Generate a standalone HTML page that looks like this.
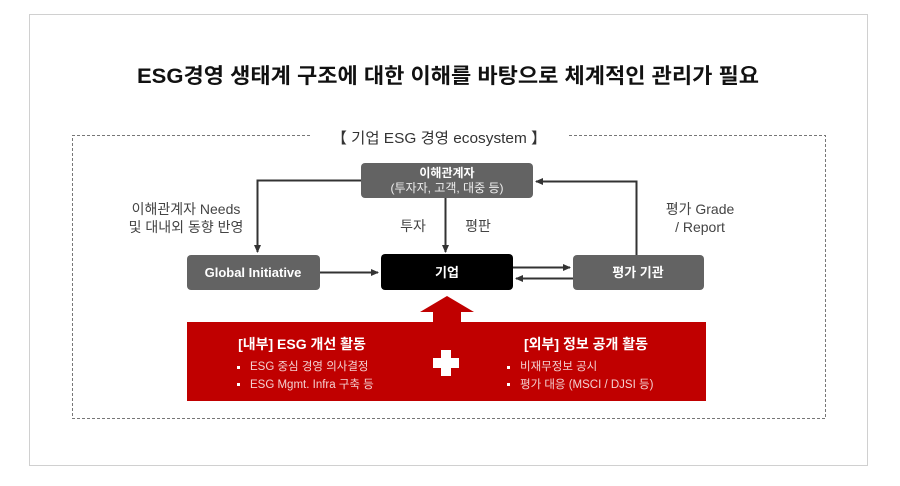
<!DOCTYPE html>
<html><head><meta charset="utf-8"><style>
html,body{margin:0;padding:0;background:#fff;}
svg{display:block;font-family:"Liberation Sans","Noto Sans CJK KR",sans-serif;}
</style></head><body>
<svg width="900" height="486" viewBox="0 0 900 486" xmlns="http://www.w3.org/2000/svg">
<defs>
<marker id="a" markerWidth="8" markerHeight="8" refX="7" refY="4" orient="auto" markerUnits="userSpaceOnUse"><path d="M0,0.5 L8,4 L0,7.5 z" fill="#333"/></marker>
</defs>
<rect x="29.5" y="14.5" width="838" height="451" fill="#fff" stroke="#d0d0d0"/>
<text x="448" y="83" text-anchor="middle" font-size="21" font-weight="bold" fill="#111" textLength="622" lengthAdjust="spacingAndGlyphs">ESG경영 생태계 구조에 대한 이해를 바탕으로 체계적인 관리가 필요</text>
<path d="M310,135.5 H72.5 V418.5 H825.5 V135.5 H568" fill="none" stroke="#777" stroke-dasharray="3,2"/>
<text x="439" y="143" text-anchor="middle" font-size="15" fill="#333" textLength="215" lengthAdjust="spacingAndGlyphs">【 기업 ESG 경영 ecosystem 】</text>
<path d="M361,180.5 H257.5 V252" fill="none" stroke="#333" stroke-width="2" marker-end="url(#a)"/>
<path d="M445.5,198 V252" fill="none" stroke="#333" stroke-width="2" marker-end="url(#a)"/>
<path d="M636.5,255 V181.5 H536" fill="none" stroke="#333" stroke-width="2" marker-end="url(#a)"/>
<path d="M320,272.5 H378" fill="none" stroke="#333" stroke-width="2" marker-end="url(#a)"/>
<path d="M513,267.5 H570" fill="none" stroke="#333" stroke-width="2" marker-end="url(#a)"/>
<path d="M573,278.5 H516" fill="none" stroke="#333" stroke-width="2" marker-end="url(#a)"/>
<rect x="361" y="163" width="172" height="35" rx="4" fill="#636363"/>
<text x="447" y="177" text-anchor="middle" font-size="12" font-weight="bold" fill="#fff">이해관계자</text>
<text x="447" y="192" text-anchor="middle" font-size="12" fill="#eee">(투자자, 고객, 대중 등)</text>
<rect x="187" y="255" width="133" height="35" rx="4" fill="#636363"/>
<text x="253" y="277" text-anchor="middle" font-size="13" font-weight="bold" fill="#fff">Global Initiative</text>
<rect x="381" y="254" width="132" height="36" rx="4" fill="#000"/>
<text x="447" y="277" text-anchor="middle" font-size="13" font-weight="bold" fill="#fff">기업</text>
<rect x="573" y="255" width="131" height="35" rx="4" fill="#636363"/>
<text x="638" y="277" text-anchor="middle" font-size="13" font-weight="bold" fill="#fff">평가 기관</text>
<text x="186" y="214" text-anchor="middle" font-size="14" fill="#444">이해관계자 Needs</text>
<text x="186" y="232" text-anchor="middle" font-size="14" fill="#444">및 대내외 동향 반영</text>
<text x="413" y="231" text-anchor="middle" font-size="14" fill="#444">투자</text>
<text x="478" y="231" text-anchor="middle" font-size="14" fill="#444">평판</text>
<text x="700" y="214" text-anchor="middle" font-size="14" fill="#444">평가 Grade</text>
<text x="700" y="232" text-anchor="middle" font-size="14" fill="#444">/ Report</text>
<polygon points="447,296 474,312 461,312 461,323 433,323 433,312 420,312" fill="#c00000"/>
<rect x="187" y="322" width="519" height="79" fill="#c00000"/>
<text x="302" y="349" text-anchor="middle" font-size="14" font-weight="bold" fill="#fff">[내부] ESG 개선 활동</text>
<rect x="237" y="366" width="3" height="3" fill="#fff"/>
<text x="250" y="370" font-size="11.5" fill="#f3d0d0">ESG 중심 경영 의사결정</text>
<rect x="237" y="383" width="3" height="3" fill="#fff"/>
<text x="250" y="388" font-size="11.5" fill="#f3d0d0">ESG Mgmt. Infra 구축 등</text>
<rect x="441" y="350" width="10" height="26" fill="#fff"/>
<rect x="433" y="358" width="26" height="10" fill="#fff"/>
<text x="586" y="349" text-anchor="middle" font-size="14" font-weight="bold" fill="#fff">[외부] 정보 공개 활동</text>
<rect x="507" y="366" width="3" height="3" fill="#fff"/>
<text x="520" y="370" font-size="11.5" fill="#f3d0d0">비재무정보  공시</text>
<rect x="507" y="383" width="3" height="3" fill="#fff"/>
<text x="520" y="388" font-size="11.5" fill="#f3d0d0">평가 대응 (MSCI / DJSI 등)</text>
</svg>
</body></html>
